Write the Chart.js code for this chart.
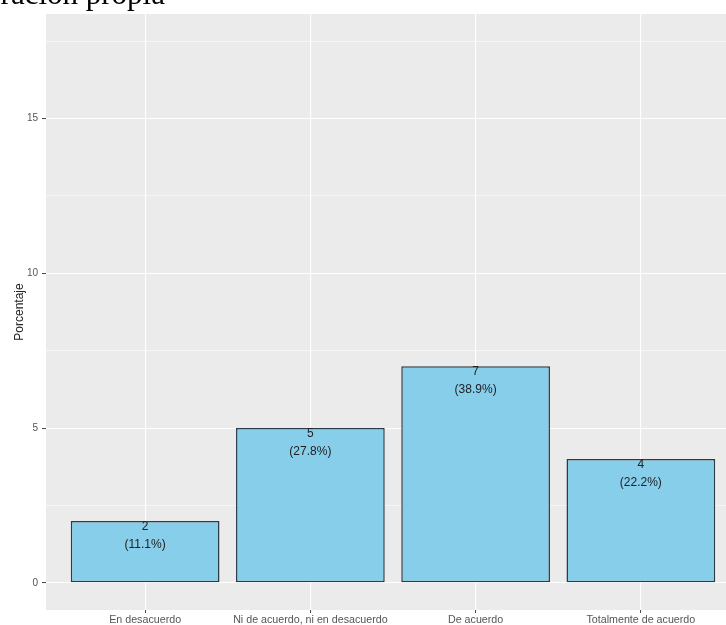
<!DOCTYPE html>
<html>
<head>
<meta charset="utf-8">
<script src="https://cdn.jsdelivr.net/npm/chart.js@4"></script>
<style>
    html, body { margin: 0; padding: 0; background: #fff; overflow: hidden; width: 726px; height: 625px; }
    #wrap { position: relative; width: 740px; height: 625px; }
    #chart { position: absolute; left: 0; top: 0; }
    #source {
        position: absolute; top: -22px; left: 0; width: 165px;
        display: flex; justify-content: flex-end; white-space: nowrap;
        font-family: "Liberation Serif", serif; font-size: 31px; line-height: 1; color: #000;
    }
</style>
</head>
<body>
<div id="wrap">
    <canvas id="chart" width="740" height="625"></canvas>
    <div id="source">Fuente: Elaboración propia</div>
</div>
<script>
const categories = ['En desacuerdo', 'Ni de acuerdo, ni en desacuerdo', 'De acuerdo', 'Totalmente de acuerdo'];
const counts = [2, 5, 7, 4];
const percents = ['11.1%', '27.8%', '38.9%', '22.2%'];
const yTicks = [0, 2.5, 5, 7.5, 10, 12.5, 15, 17.5];

const isMajor = v => v % 5 === 0;

// grey ggplot-like panel behind the grid
const panelBg = {
    id: 'panelBg',
    beforeDraw(chart) {
        const { ctx, chartArea: a } = chart;
        ctx.save();
        ctx.fillStyle = '#ebebeb';
        ctx.fillRect(a.left, a.top, a.right - a.left, a.bottom - a.top);
        ctx.restore();
    }
};

// count + percentage written just under the top of each bar
const barLabels = {
    id: 'barLabels',
    afterDatasetsDraw(chart) {
        const ctx = chart.ctx;
        const meta = chart.getDatasetMeta(0);
        ctx.save();
        ctx.font = '12px "Liberation Sans", Arial, sans-serif';
        ctx.fillStyle = '#222';
        ctx.textAlign = 'center';
        ctx.textBaseline = 'middle';
        meta.data.forEach((bar, i) => {
            ctx.fillText(String(counts[i]), bar.x, bar.y + 6);
            ctx.fillText('(' + percents[i] + ')', bar.x, bar.y + 24);
        });
        ctx.restore();
    }
};

const ctx = document.getElementById('chart').getContext('2d');

new Chart(ctx, {
    type: 'bar',
    data: {
        datasets: [{
            data: counts.map((c, i) => ({ x: i + 1, y: c })),
            backgroundColor: '#87ceeb',
            borderColor: '#2e3b44',
            borderWidth: 1.5,
            borderSkipped: false,
            barPercentage: 0.9,
            categoryPercentage: 1
        }]
    },
    options: {
        responsive: false,
        animation: false,
        layout: { padding: { top: 14, left: 0, right: 0, bottom: 0 } },
        plugins: {
            legend: { display: false },
            tooltip: { enabled: false }
        },
        scales: {
            x: {
                type: 'linear',
                min: 0.4,
                max: 4.6,
                offset: false,
                afterBuildTicks: scale => {
                    scale.ticks = categories.map((c, i) => ({ value: i + 1 }));
                },
                afterFit: scale => { scale.height = 15; },
                ticks: {
                    callback: v => categories[v - 1],
                    font: { family: 'Liberation Sans', size: 10.7 },
                    color: '#555',
                    padding: 1,
                    maxRotation: 0,
                    autoSkip: false
                },
                grid: { offset: false, color: '#ffffff', lineWidth: 1.1, tickColor: '#444', tickLength: 3, tickWidth: 1 },
                border: { display: false }
            },
            y: {
                min: -0.875,
                max: 18.375,
                afterBuildTicks: scale => {
                    scale.ticks = yTicks.map(v => ({ value: v }));
                },
                afterFit: scale => { scale.width = 46; },
                ticks: {
                    callback: v => isMajor(v) ? String(v) : '',
                    font: { family: 'Liberation Sans', size: 10 },
                    color: '#555',
                    padding: 4
                },
                grid: {
                    color: '#ffffff',
                    lineWidth: c => isMajor(c.tick.value) ? 1.1 : 0.55,
                    tickColor: c => isMajor(c.tick.value) ? '#444' : 'rgba(0,0,0,0)',
                    tickLength: 4,
                    tickWidth: 1
                },
                border: { display: false },
                title: {
                    display: true,
                    text: 'Porcentaje',
                    font: { family: 'Liberation Sans', size: 12 },
                    color: '#222',
                    padding: { top: 12, bottom: 0 }
                }
            }
        }
    },
    plugins: [panelBg, barLabels]
});
</script>
</body>
</html>
